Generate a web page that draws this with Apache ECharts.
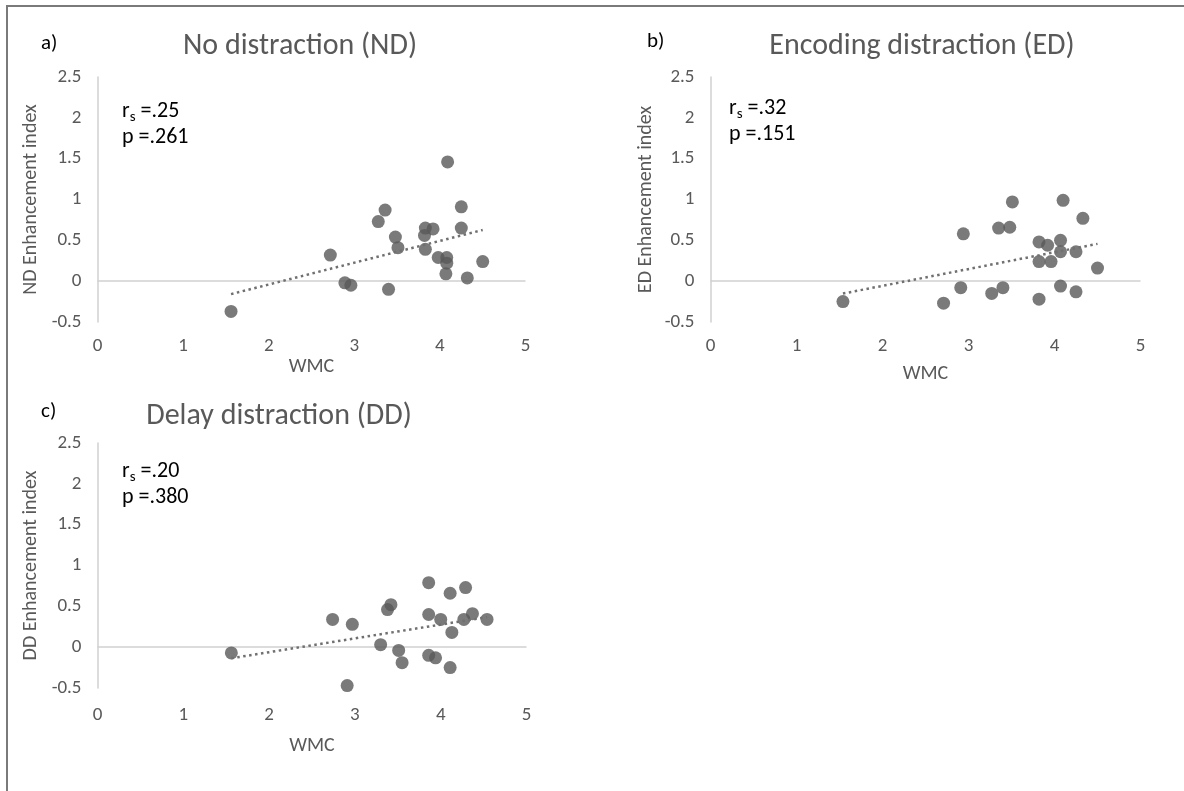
<!DOCTYPE html>
<html>
<head>
<meta charset="utf-8">
<script src="https://cdn.jsdelivr.net/npm/echarts@6/dist/echarts.min.js"></script>
<style>
  html, body { margin: 0; padding: 0; background: #ffffff; }
  #chart { width: 1184px; height: 791px; }
</style>
</head>
<body>
<div id="chart"></div>
<script>
// Working memory capacity (WMC) and enhancement index per condition
const wmcND = [1.56, 2.72, 2.89, 2.96, 3.28, 3.36, 3.40, 3.48, 3.51, 3.82, 3.83, 3.83, 3.92, 3.98, 4.08, 4.08, 4.07, 4.09, 4.25, 4.25, 4.32, 4.50];
const indexND = [-0.37, 0.32, -0.02, -0.05, 0.73, 0.87, -0.10, 0.54, 0.41, 0.56, 0.65, 0.39, 0.64, 0.29, 0.29, 0.22, 0.09, 1.46, 0.91, 0.65, 0.04, 0.24];

const wmcED = [1.54, 2.71, 2.91, 2.94, 3.27, 3.35, 3.40, 3.48, 3.51, 3.82, 3.82, 3.82, 3.92, 3.96, 4.07, 4.07, 4.07, 4.10, 4.25, 4.25, 4.33, 4.50];
const indexED = [-0.25, -0.27, -0.08, 0.58, -0.15, 0.65, -0.08, 0.66, 0.97, 0.48, 0.24, -0.22, 0.44, 0.24, 0.50, 0.36, -0.06, 0.99, 0.36, -0.13, 0.77, 0.16];

const wmcDD = [1.56, 2.74, 2.91, 2.97, 3.30, 3.38, 3.42, 3.51, 3.55, 3.86, 3.86, 3.86, 3.94, 4.00, 4.11, 4.11, 4.13, 4.29, 4.27, 4.37, 4.54];
const indexDD = [-0.07, 0.34, -0.47, 0.28, 0.03, 0.46, 0.52, -0.04, -0.19, 0.79, 0.40, -0.10, -0.13, 0.34, 0.66, -0.25, 0.18, 0.73, 0.34, 0.41, 0.34];

const panelTitles = ['No distraction (ND)', 'Encoding distraction (ED)', 'Delay distraction (DD)'];
const panelLetters = ['a)', 'b)', 'c)'];
const yNames = ['ND Enhancement index', 'ED Enhancement index', 'DD Enhancement index'];
const rsValues = ['.25', '.32', '.20'];
const pValues = ['.261', '.151', '.380'];
const xTicks = { min: 0, max: 5, step: 1 };
const yTicks = { min: -0.5, max: 2.5, step: 0.5 };

const FONT = 'Carlito, Lato, "Open Sans", sans-serif';
const GREY_TEXT = '#595959';
const MARK = '#595959';
const AXIS_LINE = '#d0d0d0';

const panels = [
  { x: wmcND, y: indexND, grid: { left: 97.5, top: 77, width: 428, height: 245 }, xLabelMargin: 15, xNameGap: 35, yNameGap: 57,
    titlePos: [300, 46], letterPos: [41, 44], statPos: [122, 111] },
  { x: wmcED, y: indexED, grid: { left: 710.5, top: 77, width: 430, height: 245 }, xLabelMargin: 15, xNameGap: 42, yNameGap: 55,
    titlePos: [922, 46], letterPos: [647, 42], statPos: [729, 108] },
  { x: wmcDD, y: indexDD, grid: { left: 97.5, top: 443, width: 429, height: 245 }, xLabelMargin: 18, xNameGap: 48, yNameGap: 57,
    titlePos: [279, 416], letterPos: [41, 412], statPos: [122, 471] }
];

// ordinary least-squares fit, drawn over the observed WMC range
function fitLine(xs, ys) {
  const n = xs.length;
  const mx = xs.reduce((a, b) => a + b, 0) / n;
  const my = ys.reduce((a, b) => a + b, 0) / n;
  let sxy = 0, sxx = 0;
  for (let i = 0; i < n; i++) { sxy += (xs[i] - mx) * (ys[i] - my); sxx += (xs[i] - mx) * (xs[i] - mx); }
  const slope = sxy / sxx;
  const icpt = my - slope * mx;
  const x0 = Math.min(...xs), x1 = Math.max(...xs);
  return [[x0, icpt + slope * x0], [x1, icpt + slope * x1]];
}

const grid = [], xAxis = [], yAxis = [], series = [], graphic = [];

panels.forEach((p, i) => {
  grid.push(Object.assign({ containLabel: false }, p.grid));
  xAxis.push({
    type: 'value', gridIndex: i, min: xTicks.min, max: xTicks.max, interval: xTicks.step,
    axisLine: { show: false }, axisTick: { show: false }, splitLine: { show: false },
    axisLabel: { color: GREY_TEXT, fontFamily: FONT, fontSize: 19, margin: p.xLabelMargin },
    name: 'WMC', nameLocation: 'middle', nameGap: p.xNameGap,
    nameTextStyle: { color: GREY_TEXT, fontFamily: FONT, fontSize: 20 }
  });
  yAxis.push({
    type: 'value', gridIndex: i, min: yTicks.min, max: yTicks.max, interval: yTicks.step,
    axisLine: { show: true, lineStyle: { color: AXIS_LINE, width: 1.5 } },
    axisTick: { show: false }, splitLine: { show: false },
    axisLabel: { color: GREY_TEXT, fontFamily: FONT, fontSize: 19, margin: 16 },
    name: yNames[i], nameLocation: 'middle', nameGap: p.yNameGap, nameRotate: 90,
    nameTextStyle: { color: GREY_TEXT, fontFamily: FONT, fontSize: 20 }
  });
  series.push({
    type: 'scatter', xAxisIndex: i, yAxisIndex: i, z: 3,
    data: p.x.map((v, k) => [v, p.y[k]]),
    symbol: 'circle', symbolSize: 13,
    itemStyle: { color: MARK },
    markLine: {
      silent: true, symbol: 'none', label: { show: false }, z: 1,
      lineStyle: { color: AXIS_LINE, type: 'solid', width: 1.5 },
      data: [{ yAxis: 0 }]
    }
  });
  series.push({
    type: 'line', xAxisIndex: i, yAxisIndex: i, z: 4,
    data: fitLine(p.x, p.y), symbol: 'none',
    lineStyle: { color: '#707070', width: 2.5, type: [2.5, 3.5], cap: 'butt' }
  });

  graphic.push({
    type: 'text', x: p.titlePos[0], y: p.titlePos[1],
    style: { text: panelTitles[i], fill: GREY_TEXT, font: '30px ' + FONT, textAlign: 'center', textVerticalAlign: 'middle' }
  });
  graphic.push({
    type: 'text', x: p.letterPos[0], y: p.letterPos[1],
    style: { text: panelLetters[i], fill: '#000000', font: '21px ' + FONT, textAlign: 'left', textVerticalAlign: 'middle' }
  });
  graphic.push({
    type: 'text', x: p.statPos[0], y: p.statPos[1],
    style: {
      text: '{m|r}{s|s}{m| =' + rsValues[i] + '}', textVerticalAlign: 'middle',
      rich: {
        m: { fill: '#000000', fontFamily: FONT, fontSize: 22 },
        s: { fill: '#000000', fontFamily: FONT, fontSize: 15, padding: [12, 0, 0, 0] }
      }
    }
  });
  graphic.push({
    type: 'text', x: p.statPos[0], y: p.statPos[1] + 26,
    style: { text: 'p =' + pValues[i], fill: '#000000', font: '22px ' + FONT, textVerticalAlign: 'middle' }
  });
});

// frame along the top and left edges
graphic.push({
  type: 'polyline', silent: true,
  shape: { points: [[7, 791], [7, 6], [1184, 6]] },
  style: { stroke: '#7a7a7a', lineWidth: 2, fill: null }
});

const chart = echarts.init(document.getElementById('chart'), null, { renderer: 'canvas' });
chart.setOption({
  backgroundColor: '#ffffff',
  animation: false,
  grid, xAxis, yAxis, series, graphic
});
</script>
</body>
</html>
